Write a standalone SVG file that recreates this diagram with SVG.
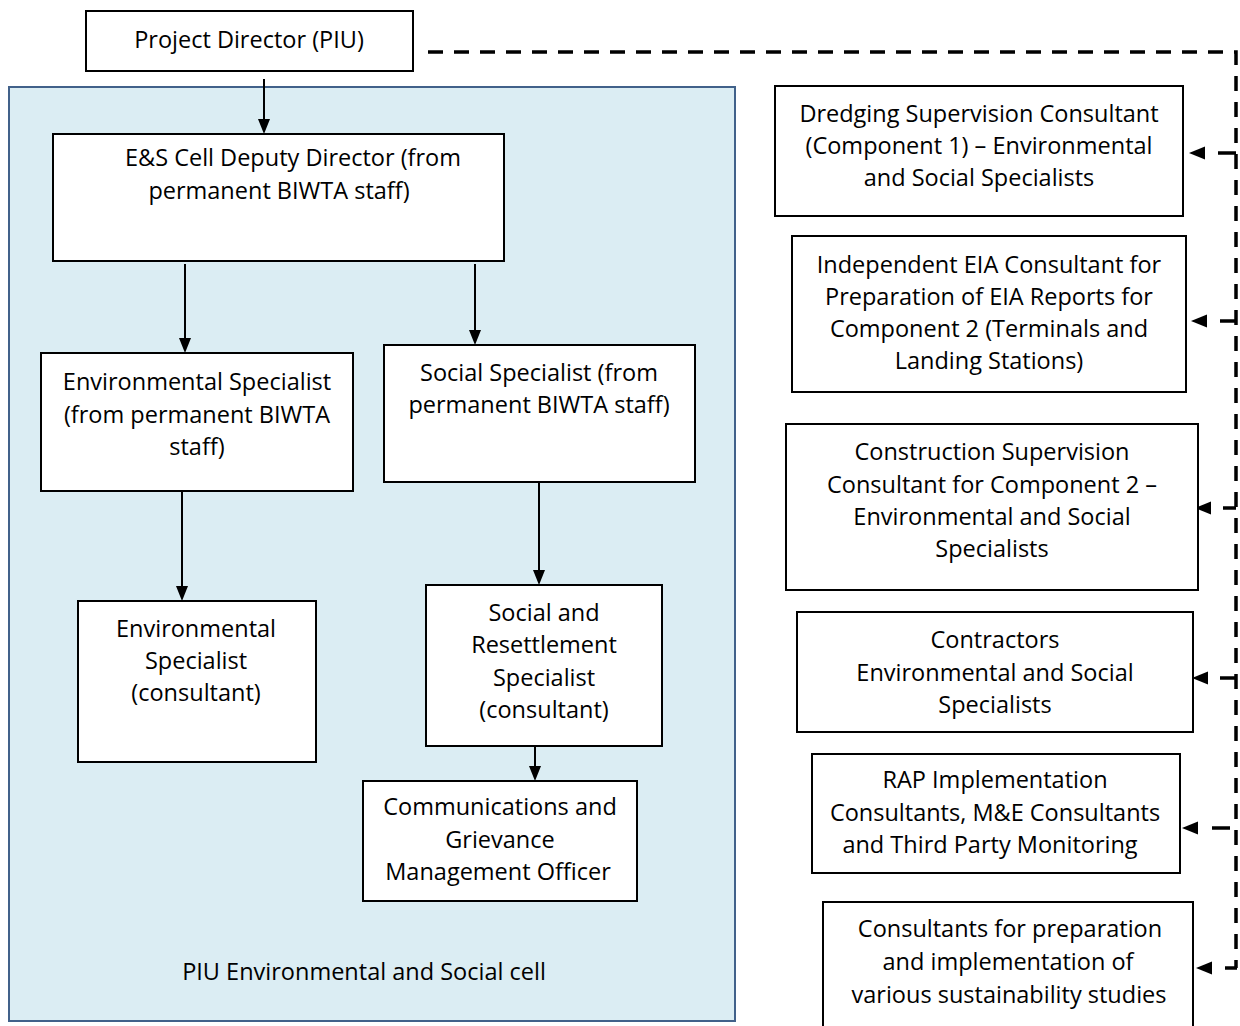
<svg xmlns="http://www.w3.org/2000/svg" width="1240" height="1026" viewBox="0 0 1240 1026">
<defs>
<style>
.box{fill:#fff;stroke:#000;stroke-width:2}
.panel{fill:#DBEDF3;stroke:#41618A;stroke-width:2}
text{font-family:"Open Sans","Noto Sans","Liberation Sans",sans-serif;font-size:23.5px;fill:#000;text-anchor:middle}
.solid{stroke:#000;stroke-width:2;fill:none}
.dash{stroke:#000;stroke-width:3.5;fill:none;stroke-dasharray:15 11}
.br{stroke:#000;stroke-width:3.5;fill:none}
</style>
<marker id="ah" markerUnits="userSpaceOnUse" markerWidth="14" markerHeight="16" refX="0" refY="6" orient="auto" overflow="visible">
<path d="M0,0 L15,6 L0,12 z" fill="#000"/>
</marker>
<marker id="dh" markerUnits="userSpaceOnUse" markerWidth="16" markerHeight="14" refX="0" refY="6.5" orient="auto" overflow="visible">
<path d="M0,0 L16,6.5 L0,13 z" fill="#000"/>
</marker>
</defs>
<rect width="1240" height="1026" fill="#fff"/>

<g id="panel">
<rect class="panel" x="9" y="87" width="726" height="934"/>
<text x="364" y="980">PIU Environmental and Social cell</text>
</g>

<g id="connectors">
<line class="solid" x1="264" y1="79" x2="264" y2="119" marker-end="url(#ah)"/>
<line class="solid" x1="185" y1="264" x2="185" y2="338" marker-end="url(#ah)"/>
<line class="solid" x1="475" y1="264" x2="475" y2="330" marker-end="url(#ah)"/>
<line class="solid" x1="182" y1="491" x2="182" y2="586" marker-end="url(#ah)"/>
<line class="solid" x1="539" y1="482" x2="539" y2="570" marker-end="url(#ah)"/>
<line class="solid" x1="535" y1="746" x2="535" y2="766" marker-end="url(#ah)"/>
<path class="dash" d="M428,52 H1236 V968"/>
<path class="br" d="M1236,153 H1205" stroke-dasharray="18 13" marker-end="url(#dh)"/>
<path class="br" d="M1236,321 H1207" stroke-dasharray="16 13" marker-end="url(#dh)"/>
<path class="br" d="M1236,508 H1211" stroke-dasharray="13 12" marker-end="url(#dh)"/>
<path class="br" d="M1236,678 H1208" stroke-dasharray="16 12" marker-end="url(#dh)"/>
<path class="br" d="M1230,828 H1198" stroke-dasharray="18 14" marker-end="url(#dh)"/>
<path class="br" d="M1237,968 H1212" stroke-dasharray="12 13" marker-end="url(#dh)"/>
</g>

<g id="project-director">
<rect class="box" x="86" y="11" width="327" height="60"/>
<text x="249" y="48">Project Director (PIU)</text>
</g>

<g id="es-cell-deputy">
<rect class="box" x="53" y="134" width="451" height="127"/>
<text x="293" y="166">E&amp;S Cell Deputy Director (from</text>
<text x="279" y="199">permanent BIWTA staff)</text>
</g>

<g id="env-specialist-biwta">
<rect class="box" x="41" y="353" width="312" height="138"/>
<text x="197" y="390">Environmental Specialist</text>
<text x="197" y="423">(from permanent BIWTA</text>
<text x="197" y="455">staff)</text>
</g>

<g id="social-specialist-biwta">
<rect class="box" x="384" y="345" width="311" height="137"/>
<text x="539" y="381">Social Specialist (from</text>
<text x="539" y="413">permanent BIWTA staff)</text>
</g>

<g id="env-specialist-consultant">
<rect class="box" x="78" y="601" width="238" height="161"/>
<text x="196" y="637">Environmental</text>
<text x="196" y="669">Specialist</text>
<text x="196" y="701">(consultant)</text>
</g>

<g id="social-resettlement">
<rect class="box" x="426" y="585" width="236" height="161"/>
<text x="544" y="621">Social and</text>
<text x="544" y="653">Resettlement</text>
<text x="544" y="686">Specialist</text>
<text x="544" y="718">(consultant)</text>
</g>

<g id="communications-grievance">
<rect class="box" x="363" y="781" width="274" height="120"/>
<text x="500" y="815">Communications and</text>
<text x="500" y="848">Grievance</text>
<text x="498" y="880">Management Officer</text>
</g>

<g id="dredging-consultant">
<rect class="box" x="775" y="86" width="408" height="130"/>
<text x="979" y="122">Dredging Supervision Consultant</text>
<text x="979" y="154">(Component 1) – Environmental</text>
<text x="979" y="186">and Social Specialists</text>
</g>

<g id="eia-consultant">
<rect class="box" x="792" y="236" width="394" height="156"/>
<text x="989" y="273">Independent EIA Consultant for</text>
<text x="989" y="305">Preparation of EIA Reports for</text>
<text x="989" y="337">Component 2 (Terminals and</text>
<text x="989" y="369">Landing Stations)</text>
</g>

<g id="construction-consultant">
<rect class="box" x="786" y="424" width="412" height="166"/>
<text x="992" y="460">Construction Supervision</text>
<text x="992" y="493">Consultant for Component 2 –</text>
<text x="992" y="525">Environmental and Social</text>
<text x="992" y="557">Specialists</text>
</g>

<g id="contractors">
<rect class="box" x="797" y="612" width="396" height="120"/>
<text x="995" y="648">Contractors</text>
<text x="995" y="681">Environmental and Social</text>
<text x="995" y="713">Specialists</text>
</g>

<g id="rap-consultants">
<rect class="box" x="812" y="754" width="368" height="119"/>
<text x="995" y="788">RAP Implementation</text>
<text x="995" y="821">Consultants, M&amp;E Consultants</text>
<text x="990" y="853">and Third Party Monitoring</text>
</g>

<g id="sustainability-consultants">
<rect class="box" x="823" y="902" width="370" height="130"/>
<text x="1010" y="937">Consultants for preparation</text>
<text x="1008" y="970">and implementation of</text>
<text x="1009" y="1003">various sustainability studies</text>
</g>
</svg>
